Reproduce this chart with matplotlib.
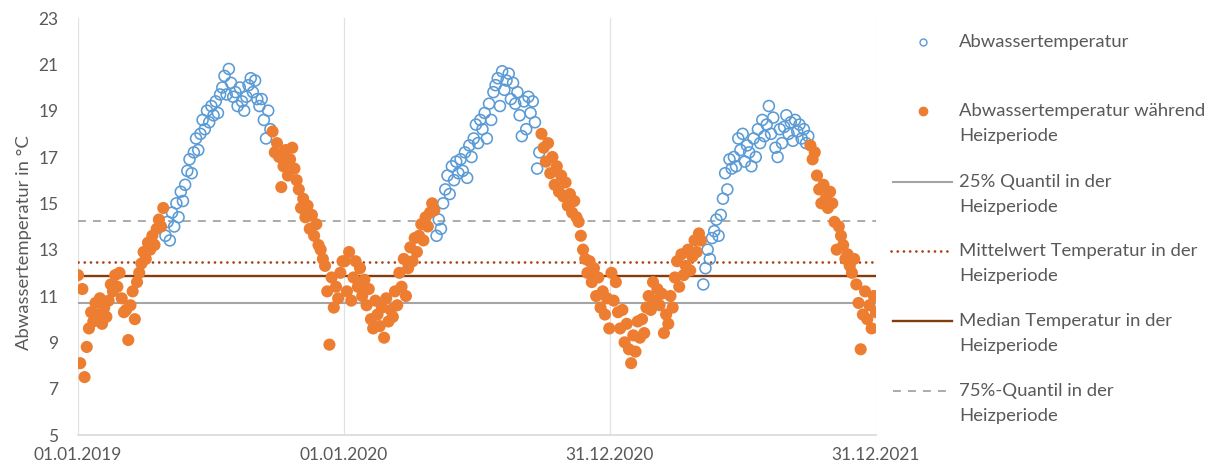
import matplotlib
matplotlib.use('Agg')
import matplotlib.pyplot as plt
from matplotlib.lines import Line2D
import numpy as np
import pandas as pd

plt.rcParams['font.family'] = ['Lato', 'DejaVu Sans']

# ---------------- data ----------------
start_date = '2019-01-01'
step_days = 3

temp_2019 = [11.9, 8.1, 11.3, 7.5, 8.8, 9.6, 10.3, 9.9, 10.7, 10.2, 10.9, 9.8, 10.5, 10.1,
             10.8, 11.5, 11.2, 11.9, 11.4, 12.0, 10.9, 10.3,
             10.4, 9.1, 10.6, 11.2, 10.0, 11.6, 12.0,
             12.4, 12.9, 12.6, 13.3, 13.0, 13.6, 13.2,
             13.9, 14.3, 14.0, 14.8,
             13.6, 14.2, 13.4, 14.6, 14.0, 15.0, 14.4, 15.5, 15.1,
             15.8, 16.4, 16.9, 16.3, 17.2, 17.8, 17.3,
             18.0, 18.6, 18.2, 19.0, 18.5, 19.2, 18.8,
             19.4, 18.9, 19.7,
             20.0, 20.5, 19.7, 20.8, 20.2, 19.6,
             19.8, 19.2, 20.0, 19.4, 19.0, 19.6,
             20.1, 20.4, 19.8, 20.3, 19.5,
             19.2, 19.5, 18.6, 17.8, 19.0, 18.2,
             18.1, 17.2, 17.6,
             17.0, 15.7, 16.6, 17.3, 16.2, 16.9, 17.4, 16.5, 16.0,
             15.6, 14.8, 15.2, 14.4, 14.9, 13.9,
             14.5, 13.6, 14.1, 13.2, 13.0, 12.6,
             12.3, 11.2, 8.9, 11.8, 10.5,
             11.4, 10.9, 12.0, 12.5]

temp_2020 = [12.5, 11.2, 12.9, 10.8,
             11.8, 12.5, 11.4, 12.2, 11.0, 11.7,
             10.6, 11.3, 10.0, 9.6, 10.8, 10.2,
             9.7, 10.5, 9.2, 10.9, 9.9, 10.4,
             10.1, 11.2, 10.6, 12.0, 11.4, 12.6, 11.0,
             12.2, 13.1, 12.5, 13.5, 12.9,
             13.6, 14.1, 13.4, 14.4, 14.0,
             14.6, 15.0, 14.7,
             13.6, 14.3, 13.9, 15.0,
             15.6, 16.2, 15.4, 16.6, 16.0, 16.8, 16.3,
             16.9, 16.4, 17.2, 16.1, 17.5, 17.0,
             17.8, 18.4, 17.6, 18.6,
             18.2, 18.9, 17.8,
             19.3, 18.6, 19.8, 20.1,
             20.4, 19.2, 20.7, 19.9, 20.3,
             20.6, 19.5, 20.2, 19.3, 19.8,
             18.8, 17.9, 19.4, 18.2, 19.6,
             18.9, 19.4, 18.5, 16.5, 17.2,
             18.0, 17.4, 16.8, 17.6,
             16.3, 17.0, 15.8, 16.6, 15.5, 16.2, 15.3,
             15.9, 14.9, 15.4, 14.6, 15.1, 14.4, 14.2,
             13.6, 13.0, 12.6, 12.0, 12.5,
             11.6, 12.2, 11.0, 11.8, 10.5, 11.2,
             10.2, 10.9, 9.6]

temp_2021 = [12.0, 10.8, 11.6, 10.3,
             9.6, 10.4, 9.0, 9.8, 8.7,
             8.1, 9.3, 8.6, 9.9,
             9.2, 10.0, 9.4, 10.5,
             11.0, 10.4, 11.6, 10.8, 11.3, 10.6,
             11.1, 9.4, 10.2, 9.8, 11.0, 10.5, 11.8,
             12.5, 11.4, 12.8, 11.9, 12.3,
             13.0, 12.1, 12.7, 13.4, 12.9, 13.7, 13.4,
             11.5, 12.2, 13.0, 12.6, 13.5,
             13.8, 14.3, 13.6, 14.5,
             15.2, 16.3, 15.6, 16.9, 16.5,
             17.0, 16.6, 17.8, 17.3, 18.0, 16.8, 17.5,
             17.2, 16.6, 17.8, 17.0,
             18.2, 17.6, 18.6, 17.9, 18.4, 19.2,
             18.0, 18.7, 17.4, 17.0, 18.2, 17.6,
             18.3, 18.8, 18.0, 18.5, 17.7, 18.6,
             18.1, 18.4, 17.8, 18.2, 17.6, 17.9,
             17.5, 16.9, 17.2, 16.2,
             15.6, 15.0, 15.8, 15.2, 14.8, 15.5, 15.0,
             14.2, 13.0, 14.0, 13.6, 13.2, 12.6,
             12.8, 12.3, 12.0, 12.6, 11.5,
             10.7, 8.7, 10.2, 11.2, 10.0, 10.6,
             9.6, 11.0, 10.3]

# heating period: before heating_end (first day outside) or from heating_start on
years = [2019, 2020, 2021]
heating_end = ['2019-04-29', '2020-05-05', '2021-05-06']
heating_start = ['2019-09-24', '2020-09-27', '2021-09-30']

q25_heating = 10.7
mean_heating = 12.45
median_heating = 11.85
q75_heating = 14.25

x_tick_dates = ['2019-01-01', '2020-01-01', '2020-12-31', '2021-12-31']
x_tick_labels = ['01.01.2019', '01.01.2020', '31.12.2020', '31.12.2021']
y_ticks = list(range(5, 24, 2))

series_labels = ['Abwassertemperatur', 'Abwassertemperatur während\nHeizperiode']
line_labels = ['25% Quantil in der\nHeizperiode',
               'Mittelwert Temperatur in der\nHeizperiode',
               'Median Temperatur in der\nHeizperiode',
               '75%-Quantil in der\nHeizperiode']

# ---------------- build ----------------
values = np.array(temp_2019 + temp_2020 + temp_2021)
dates = pd.date_range(start_date, periods=len(values), freq=f'{step_days}D')
heat = np.zeros(len(values), dtype=bool)
for y, he, hs in zip(years, heating_end, heating_start):
    in_year = dates.year == y
    heat |= in_year & ((dates < pd.Timestamp(he)) | (dates >= pd.Timestamp(hs)))

BLUE = '#5B9BD5'
ORANGE = '#ED7D31'
GRAY = '#A5A5A5'
DOT = '#A83F10'
MED = '#843C0C'
TXT = '#595959'
GRID = '#E2E2E2'
FS = 12.5
LFS = 13.3

W, H = 1215, 468
fig = plt.figure(figsize=(W / 100, H / 100), dpi=100)
x0, x1, ytop, ybot = 78, 876, 18, 435
ax = fig.add_axes([x0 / W, 1 - ybot / H, (x1 - x0) / W, (ybot - ytop) / H])

xmin, xmax = pd.Timestamp('2019-01-01'), pd.Timestamp('2021-12-31')

DOTS = (0, (0.05, 2.3))
DASH = (0, (4.4, 3.9))

ax.hlines(q25_heating, xmin, xmax, color=GRAY, lw=1.5, zorder=1)
ax.hlines(mean_heating, xmin, xmax, color=DOT, lw=1.9, linestyles=DOTS, zorder=1,
          capstyle='round')
ax.hlines(median_heating, xmin, xmax, color=MED, lw=1.7, zorder=1)
ax.hlines(q75_heating, xmin, xmax, color=GRAY, lw=1.3, linestyles=DASH, zorder=1)

ax.scatter(dates[~heat], values[~heat], s=62, facecolors='none', edgecolors=BLUE,
           linewidths=1.15, zorder=3)
ax.scatter(dates[heat], values[heat], s=76, color=ORANGE, edgecolors='none', zorder=4)

ax.set_xlim(xmin, xmax)
ax.set_ylim(5, 23)
ax.set_yticks(y_ticks)
ax.set_xticks(pd.to_datetime(x_tick_dates))
ax.set_xticklabels(x_tick_labels)
ax.tick_params(axis='both', length=0, labelsize=FS, colors=TXT)
ax.tick_params(axis='y', pad=14)
ax.tick_params(axis='x', pad=9)
ax.grid(axis='x', color=GRID, lw=0.9)
ax.set_axisbelow(True)
for s in ['left', 'right', 'top']:
    ax.spines[s].set_visible(False)
ax.spines['bottom'].set_color('#D9D9D9')
ax.spines['bottom'].set_linewidth(1.2)
ax.set_ylabel('Abwassertemperatur in °C', fontsize=FS + 0.8, color=TXT)
ax.yaxis.set_label_coords(-0.058, 0.462)

# ---------------- legend (manual, handles aligned with first text line) ----------------
def fx(px):
    return px / W

def fy(py):
    return 1 - py / H

text_x = 959
entries = [
    ('marker_open', series_labels[0], 42),
    ('marker_fill', series_labels[1], 111),
    ('q25', line_labels[0], 182),
    ('mean', line_labels[1], 251),
    ('median', line_labels[2], 321),
    ('q75', line_labels[3], 391),
]
for kind, label, ypx in entries:
    for n, line in enumerate(label.split('\n')):
        fig.text(fx(text_x), fy(ypx + 25 * n), line, fontsize=LFS, color=TXT,
                 ha='left', va='center')
    if kind == 'marker_open':
        fig.add_artist(Line2D([fx(923)], [fy(ypx)], marker='o', ms=5, mfc='none',
                              mec=BLUE, mew=1.0, ls='none'))
    elif kind == 'marker_fill':
        fig.add_artist(Line2D([fx(923)], [fy(ypx)], marker='o', ms=6, mfc=ORANGE,
                              mec=ORANGE, ls='none'))
    elif kind == 'q25':
        fig.add_artist(Line2D([fx(893), fx(952)], [fy(ypx)] * 2, color=GRAY, lw=1.5))
    elif kind == 'mean':
        fig.add_artist(Line2D([fx(891), fx(952)], [fy(ypx)] * 2, color=DOT, lw=1.9,
                              ls=DOTS, dash_capstyle='round'))
    elif kind == 'median':
        fig.add_artist(Line2D([fx(893), fx(952)], [fy(ypx)] * 2, color=MED, lw=1.7))
    elif kind == 'q75':
        fig.add_artist(Line2D([fx(893), fx(952)], [fy(ypx)] * 2, color=GRAY, lw=1.3,
                              ls=DASH))

fig.savefig('out.png', dpi=100, facecolor='white')
